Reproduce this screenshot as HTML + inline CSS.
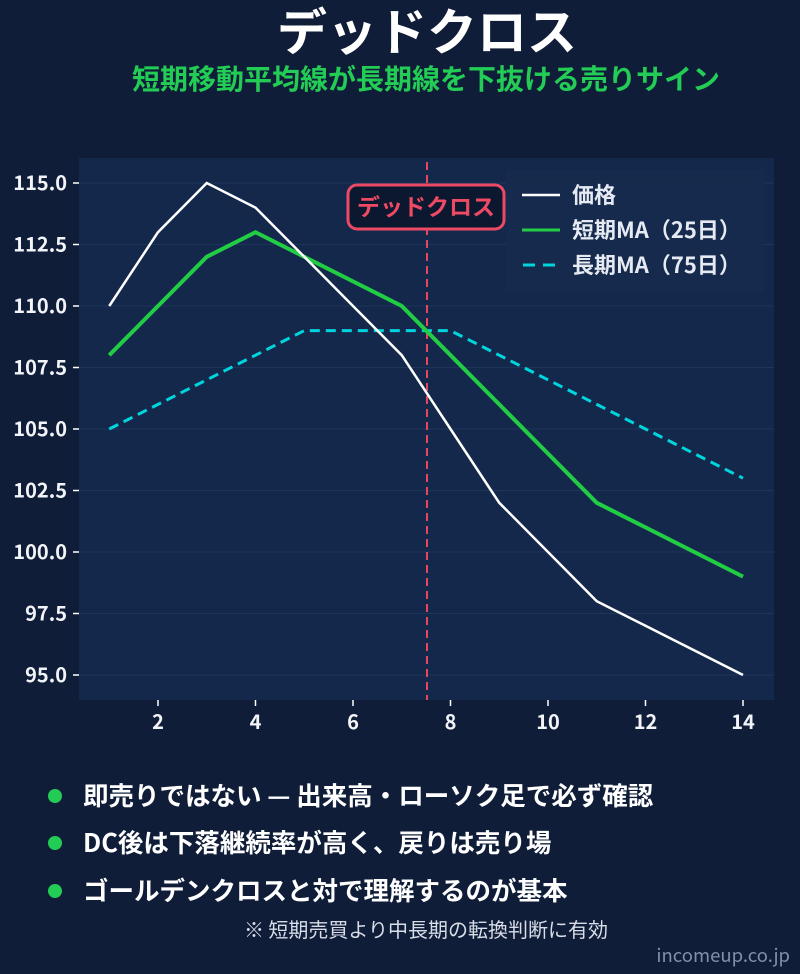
<!DOCTYPE html>
<html><head><meta charset="utf-8"><style>
body{margin:0;width:800px;height:974px;background:#0f1d38;overflow:hidden}
svg text{font-family:"Noto Sans CJK JP","Liberation Sans",sans-serif}
</style></head><body>
<svg width="800" height="974" xmlns="http://www.w3.org/2000/svg" style="position:absolute;left:0;top:0">
<rect width="800" height="974" fill="#0f1d38"/>
<text x="427" y="50" text-anchor="middle" font-size="50" font-weight="bold" fill="#ffffff">デッドクロス</text>
<text x="426" y="89" text-anchor="middle" font-size="28" font-weight="bold" fill="#22cc55">短期移動平均線が長期線を下抜ける売りサイン</text>
<rect x="79" y="158" width="695" height="542" fill="#13284b"/>
<g stroke="#1c3558" stroke-width="1">
<line x1="79" x2="774" y1="183" y2="183"/><line x1="79" x2="774" y1="244.5" y2="244.5"/><line x1="79" x2="774" y1="306" y2="306"/><line x1="79" x2="774" y1="367.5" y2="367.5"/><line x1="79" x2="774" y1="429" y2="429"/><line x1="79" x2="774" y1="490.5" y2="490.5"/><line x1="79" x2="774" y1="552" y2="552"/><line x1="79" x2="774" y1="613.5" y2="613.5"/><line x1="79" x2="774" y1="675" y2="675"/>
</g>
<g stroke="#ffffff" stroke-width="1.5">
<line x1="73" x2="79" y1="183" y2="183"/><line x1="73" x2="79" y1="244.5" y2="244.5"/><line x1="73" x2="79" y1="306" y2="306"/><line x1="73" x2="79" y1="367.5" y2="367.5"/><line x1="73" x2="79" y1="429" y2="429"/><line x1="73" x2="79" y1="490.5" y2="490.5"/><line x1="73" x2="79" y1="552" y2="552"/><line x1="73" x2="79" y1="613.5" y2="613.5"/><line x1="73" x2="79" y1="675" y2="675"/>
<line x1="158" x2="158" y1="700" y2="706"/><line x1="255.5" x2="255.5" y1="700" y2="706"/><line x1="353" x2="353" y1="700" y2="706"/><line x1="450.5" x2="450.5" y1="700" y2="706"/><line x1="548" x2="548" y1="700" y2="706"/><line x1="645.5" x2="645.5" y1="700" y2="706"/><line x1="743" x2="743" y1="700" y2="706"/>
</g>
<g fill="#f2f4f8" font-size="20" font-weight="bold" text-anchor="end">
<text x="67" y="190">115.0</text><text x="67" y="251.5">112.5</text><text x="67" y="313">110.0</text><text x="67" y="374.5">107.5</text><text x="67" y="436">105.0</text><text x="67" y="497.5">102.5</text><text x="67" y="559">100.0</text><text x="67" y="620.5">97.5</text><text x="67" y="682">95.0</text>
</g>
<g fill="#f2f4f8" font-size="20" font-weight="bold" text-anchor="middle">
<text x="158" y="729">2</text><text x="255.5" y="729">4</text><text x="353" y="729">6</text><text x="450.5" y="729">8</text><text x="548" y="729">10</text><text x="645.5" y="729">12</text><text x="743" y="729">14</text>
</g>
<line x1="427" x2="427" y1="162" y2="700" stroke="#e8455f" stroke-width="2" stroke-dasharray="8,5"/>
<polyline fill="none" stroke="#00d4dc" stroke-width="3" stroke-dasharray="10,6" points="109.25,429 158,404.4 206.75,379.8 255.5,355.2 304.25,330.6 353,330.6 401.75,330.6 450.5,330.6 499.25,355.2 548,379.8 596.75,404.4 645.5,429 694.25,453.6 743,478.2"/>
<polyline fill="none" stroke="#22cc44" stroke-width="4" points="109.25,355.2 158,306 206.75,256.8 255.5,232.2 304.25,256.8 353,281.4 401.75,306 450.5,355.2 499.25,404.4 548,453.6 596.75,502.8 645.5,527.4 694.25,552 743,576.6"/>
<polyline fill="none" stroke="#ffffff" stroke-width="2.5" points="109.25,306 158,232.2 206.75,183 255.5,207.6 304.25,256.8 353,306 401.75,355.2 450.5,429 499.25,502.8 548,552 596.75,601.2 645.5,625.8 694.25,650.4 743,675"/>
<rect x="506" y="170" width="258" height="122" fill="#162a4c" opacity="0.9"/>
<rect x="348" y="185" width="156" height="44" rx="9" fill="#0c1830" stroke="#ec4a64" stroke-width="3"/>
<text x="426" y="215" text-anchor="middle" font-size="23" font-weight="bold" fill="#ee4a64">デッドクロス</text>
<line x1="522" x2="560" y1="195" y2="195" stroke="#fff" stroke-width="2.5"/>
<line x1="522" x2="560" y1="230" y2="230" stroke="#22cc44" stroke-width="3"/>
<line x1="523" x2="560" y1="265" y2="265" stroke="#00d4dc" stroke-width="3" stroke-dasharray="12,8"/>
<g fill="#e6eaf2" font-size="22" font-weight="bold">
<text x="572" y="203">価格</text><text x="572" y="238">短期MA（25日）</text><text x="572" y="273">長期MA（75日）</text>
</g>
<g fill="#22cc55"><circle cx="55" cy="796" r="7"/><circle cx="55" cy="843" r="7"/><circle cx="55" cy="891" r="7"/></g>
<g fill="#ffffff" font-size="25.5" font-weight="bold">
<text x="83" y="805">即売りではない — 出来高・ローソク足で必ず確認</text>
<text x="83" y="852">DC後は下落継続率が高く、戻りは売り場</text>
<text x="83" y="900">ゴールデンクロスと対で理解するのが基本</text>
</g>
<text x="426" y="937" text-anchor="middle" font-size="20" fill="#d8dde8">※ 短期売買より中長期の転換判断に有効</text>
<text x="790" y="962" text-anchor="end" font-size="18.5" fill="#8190aa">incomeup.co.jp</text>
</svg>
</body></html>
